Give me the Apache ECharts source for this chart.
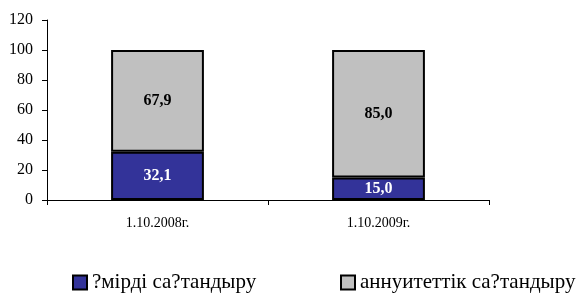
<!DOCTYPE html>
<html><head><meta charset="utf-8">
<script src="https://cdn.jsdelivr.net/npm/echarts@6/dist/echarts.min.js"></script>
<style>html,body{margin:0;padding:0;background:#fff}#c{width:580px;height:296px}</style>
</head><body><div id="c"></div>
<script>
var categories = ['1.10.2008г.', '1.10.2009г.'];
var seriesNames = ['?мірді са?тандыру', 'аннуитеттік са?тандыру'];
var lifeValues = [32.1, 15.0];
var annuityValues = [67.9, 85.0];
var yTicks = [0, 20, 40, 60, 80, 100, 120];

var font = 'Liberation Serif';
var chart = echarts.init(document.getElementById('c'));
function fmt(p){ return p.value.toFixed(1).replace('.', ','); }
var legendText = {fontFamily: font, fontSize: 21, color: '#000'};
chart.setOption({
  animation: false,
  textStyle: {fontFamily: font},
  grid: {left: 47, right: 91, top: 20, bottom: 96, containLabel: false},
  legend: [{
    data: [{name: seriesNames[0], icon: 'rect'}], left: 67, top: 267, itemWidth: 14, itemHeight: 14,
    itemStyle: {borderColor: '#000', borderWidth: 2},
    textStyle: legendText
  }, {
    data: [{name: seriesNames[1], icon: 'rect'}], left: 335, top: 267, itemWidth: 14, itemHeight: 14,
    itemStyle: {borderColor: '#000', borderWidth: 2},
    textStyle: legendText
  }],
  xAxis: {
    type: 'category', data: categories,
    axisLine: {lineStyle: {color: '#000', width: 1}},
    axisTick: {show: true, alignWithLabel: false, length: 5, inside: false, lineStyle: {color: '#000'}},
    axisLabel: {color: '#000', fontFamily: font, fontSize: 14, margin: 16}
  },
  yAxis: {
    type: 'value', min: yTicks[0], max: yTicks[yTicks.length-1], interval: 20,
    axisLine: {show: true, lineStyle: {color: '#000', width: 1}},
    axisTick: {show: true, length: 5, lineStyle: {color: '#000'}},
    splitLine: {show: false},
    axisLabel: {color: '#000', fontFamily: font, fontSize: 16, margin: 14}
  },
  series: [{
    name: seriesNames[0], type: 'bar', stack: 's', data: lifeValues, barWidth: '42%',
    itemStyle: {color: '#333399', borderColor: '#000', borderWidth: 2},
    label: {show: true, position: 'inside', formatter: fmt, color: '#fff', fontWeight: 'bold', fontSize: 16, fontFamily: font}
  }, {
    name: seriesNames[1], type: 'bar', stack: 's', data: annuityValues, barWidth: '42%',
    itemStyle: {color: '#C0C0C0', borderColor: '#000', borderWidth: 2},
    label: {show: true, position: 'inside', formatter: fmt, color: '#000', fontWeight: 'bold', fontSize: 16, fontFamily: font}
  }]
});
</script></body></html>
